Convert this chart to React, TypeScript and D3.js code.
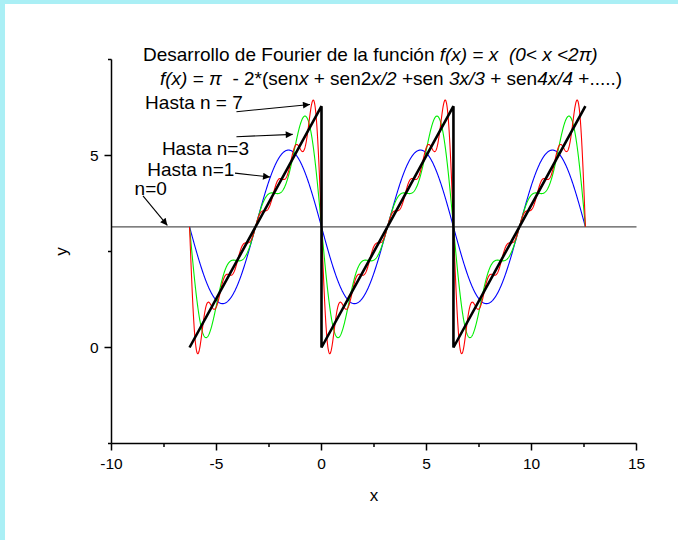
import React from 'react';
import * as d3 from 'd3';

// Fourier partial sums of f(x) = x on (0, 2π): π - 2 Σ sin(kx)/k
const harmonicCounts = [1, 3, 7];
const seriesColors = ['#0000ff', '#00ee00', '#ff0000'];
const xStart = -2 * Math.PI;
const xEnd = 4 * Math.PI;

// the sawtooth itself (black)
const sawX = [-2 * Math.PI, 0, 0, 2 * Math.PI, 2 * Math.PI, 4 * Math.PI];
const sawY = [0, 2 * Math.PI, 0, 2 * Math.PI, 0, 2 * Math.PI];

// n = 0 level
const baseLevel = Math.PI;

const xTicks = [-10, -7.5, -5, -2.5, 0, 2.5, 5, 7.5, 10, 12.5, 15];
const xTickLabels = ['-10', '', '-5', '', '0', '', '5', '', '10', '', '15'];
const yTicks = [-2.5, 0, 2.5, 5, 7.5];
const yTickLabels = ['', '0', '', '5', ''];

// annotation labels and arrows (data units)
const labelText = ['Hasta n = 7', 'Hasta n=3', 'Hasta n=1', 'n=0'];
const labelX = [-8.4, -7.6, -8.3, -8.9];
const labelY = [6.2, 5.01, 4.46, 3.98];
const arrowFrom = [[-4.05, 6.14], [-4.05, 5.49], [-4.12, 4.54], [-8.5, 3.95]];
const arrowTo = [[-0.55, 6.33], [-1.37, 5.55], [-2.45, 4.44], [-7.34, 3.18]];

const W = 678;
const H = 540;

const fourier = (x: number, n: number) => {
  let s = 0;
  for (let k = 1; k <= n; k++) s += Math.sin(k * x) / k;
  return Math.PI - 2 * s;
};

export default function App() {
  const x = d3.scaleLinear().domain([-10, 15]).range([111.5, 636.5]);
  const y = d3.scaleLinear().domain([-2.5, 7.5]).range([443.5, 59.5]);

  const samples = d3.range(0, 1601).map(i => xStart + (xEnd - xStart) * i / 1600);
  const line = d3.line<[number, number]>().x(d => x(d[0])).y(d => y(d[1]));

  const font = 'Arial, "Liberation Sans", Helvetica, sans-serif';
  const x0 = x(-10);
  const y0 = y(-2.5);

  return (
    <svg width={W} height={H} style={{ position: 'absolute', left: 0, top: 0 }} fontFamily={font}>
      <defs>
        <marker id="ah" viewBox="0 0 10 10" refX="10" refY="5" markerWidth="9" markerHeight="7"
          markerUnits="userSpaceOnUse" orient="auto">
          <path d="M0,0 L10,5 L0,10 z" fill="#000" />
        </marker>
      </defs>
      <rect width={W} height={H} fill="#aaeff5" />
      <rect x={5} y={4} width={W - 5} height={H - 4} fill="#fff" />

      {/* n = 0 */}
      <line x1={x(-10)} x2={x(15)} y1={y(baseLevel)} y2={y(baseLevel)} stroke="#555" strokeWidth={1.2} />

      {harmonicCounts.map((n, i) => (
        <path key={n} d={line(samples.map(v => [v, fourier(v, n)]) as [number, number][]) || ''}
          fill="none" stroke={seriesColors[i]} strokeWidth={1.1} />
      ))}

      <path d={line(sawX.map((v, i) => [v, sawY[i]]) as [number, number][]) || ''}
        fill="none" stroke="#000" strokeWidth={2.6} strokeLinejoin="miter" />

      {/* axes */}
      <g stroke="#000" strokeWidth={1.5}>
        <line x1={x0} x2={x(15)} y1={y0} y2={y0} />
        <line x1={x0} x2={x0} y1={y0} y2={y(7.5)} />
        {xTicks.map((t, i) => (
          <line key={'xt' + i} x1={x(t)} x2={x(t)} y1={y0} y2={y0 + (xTickLabels[i] ? 7 : 3.5)} />
        ))}
        {yTicks.map((t, i) => (
          <line key={'yt' + i} x1={x0} x2={x0 - (yTickLabels[i] ? 7 : 3.5)} y1={y(t)} y2={y(t)} />
        ))}
      </g>
      <g fontSize={15.5} fill="#000">
        {xTicks.map((t, i) => xTickLabels[i] && (
          <text key={'xl' + i} x={x(t)} y={y0 + 25} textAnchor="middle">{xTickLabels[i]}</text>
        ))}
        {yTicks.map((t, i) => yTickLabels[i] && (
          <text key={'yl' + i} x={x0 - 13} y={y(t) + 5.5} textAnchor="end">{yTickLabels[i]}</text>
        ))}
      </g>
      <text x={x(2.5)} y={y0 + 57} fontSize={17} textAnchor="middle">x</text>
      <text transform={`translate(${x0 - 45},${y(2.5)}) rotate(-90)`} fontSize={17} textAnchor="middle">y</text>

      {/* title */}
      <g fontSize={19} fill="#000" style={{ whiteSpace: 'pre' }}>
        <text x={143} y={61}>
          <tspan>Desarrollo de Fourier de la función </tspan>
          <tspan fontStyle="italic">f(x)</tspan>
          <tspan> = </tspan>
          <tspan fontStyle="italic">x</tspan>
          <tspan>{'\u00a0\u00a0'}</tspan>
          <tspan fontStyle="italic">(0&lt; x &lt;2π)</tspan>
        </text>
        <text x={160} y={85}>
          <tspan fontStyle="italic">f(x)</tspan>
          <tspan> = </tspan>
          <tspan fontStyle="italic">π</tspan>
          <tspan>{'\u00a0\u00a0- 2*(sen'}</tspan>
          <tspan fontStyle="italic">x</tspan>
          <tspan> + sen2</tspan>
          <tspan fontStyle="italic">x/2</tspan>
          <tspan> +sen </tspan>
          <tspan fontStyle="italic">3x/3</tspan>
          <tspan> + sen</tspan>
          <tspan fontStyle="italic">4x/4</tspan>
          <tspan> +.....)</tspan>
        </text>
      </g>

      {/* annotations */}
      <g fontSize={19} fill="#000">
        {labelText.map((t, i) => (
          <text key={t} x={x(labelX[i])} y={y(labelY[i])}>{t}</text>
        ))}
      </g>
      {arrowFrom.map((p, i) => (
        <line key={'ar' + i} x1={x(p[0])} y1={y(p[1])} x2={x(arrowTo[i][0])} y2={y(arrowTo[i][1])}
          stroke="#000" strokeWidth={1.1} markerEnd="url(#ah)" />
      ))}
    </svg>
  );
}
